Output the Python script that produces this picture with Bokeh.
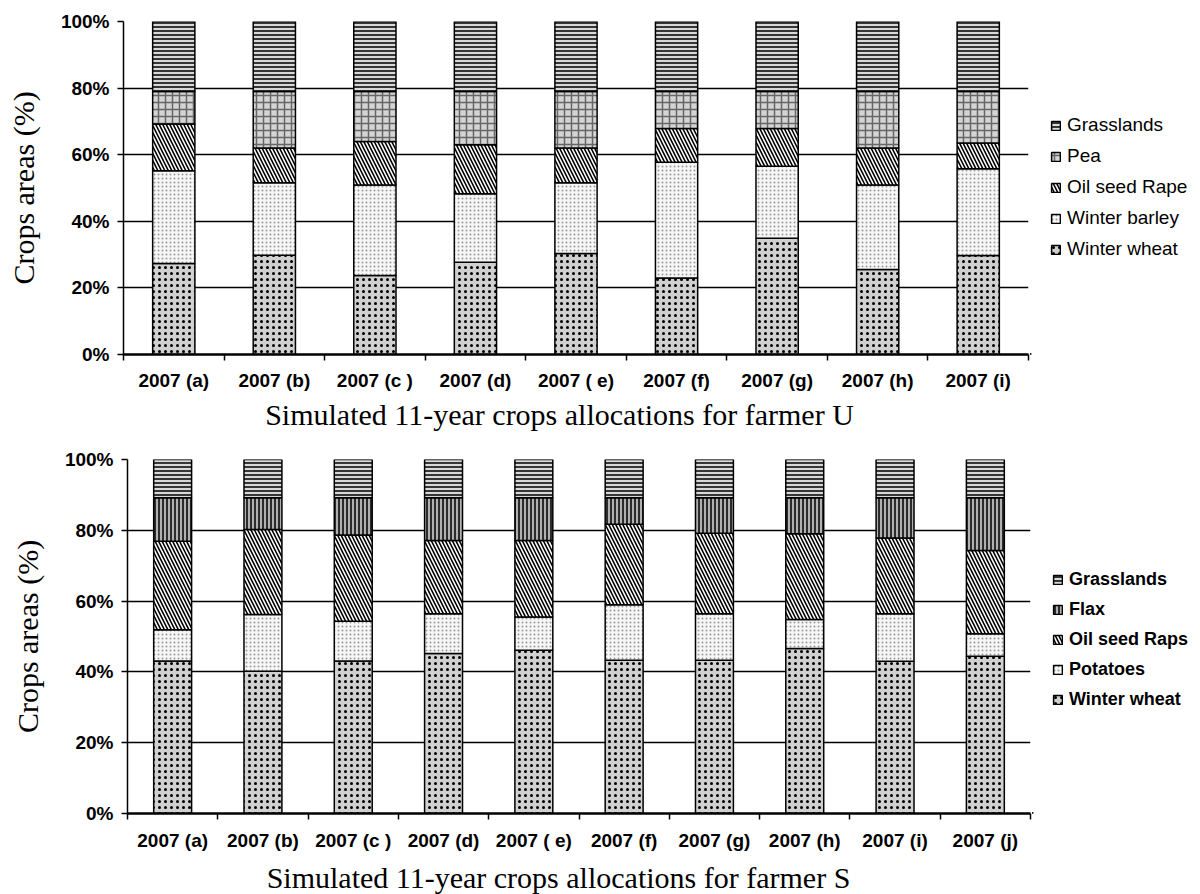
from bokeh.plotting import figure
from bokeh.models import (FactorRange, Range1d, LinearAxis, CategoricalAxis, FixedTicker,
                          Legend, LegendItem, Label, PrintfTickFormatter, ColumnDataSource)
from bokeh.layouts import column, row
from bokeh.transform import stack
from bokeh.embed import file_html
from bokeh.resources import INLINE

# ---------------- data: farmer U ----------------
years_u = ["2007 (a)", "2007 (b)", "2007 (c )", "2007 (d)", "2007 ( e)",
           "2007 (f)", "2007 (g)", "2007 (h)", "2007 (i)"]
u_winter_wheat = [27.3, 29.8, 23.7, 27.7, 30.3, 23.0, 34.9, 25.5, 29.7]
u_winter_barley = [27.9, 21.8, 27.2, 20.6, 21.3, 34.7, 21.6, 25.4, 26.1]
u_oil_seed_rape = [14.0, 10.4, 13.1, 14.7, 10.4, 10.2, 11.4, 11.1, 7.7]
u_pea = [9.8, 17.0, 15.0, 16.0, 17.0, 11.1, 11.1, 17.0, 15.5]
u_grasslands = [21.0, 21.0, 21.0, 21.0, 21.0, 21.0, 21.0, 21.0, 21.0]
u_names = ["Winter wheat", "Winter barley", "Oil seed Rape", "Pea", "Grasslands"]

# ---------------- data: farmer S ----------------
years_s = ["2007 (a)", "2007 (b)", "2007 (c )", "2007 (d)", "2007 ( e)",
           "2007 (f)", "2007 (g)", "2007 (h)", "2007 (i)", "2007 (j)"]
s_winter_wheat = [43.1, 40.2, 43.1, 45.2, 46.1, 43.3, 43.3, 46.6, 43.0, 44.4]
s_potatoes = [8.8, 16.0, 11.2, 11.2, 9.4, 15.7, 13.1, 8.2, 13.4, 6.4]
s_oil_seed_raps = [25.0, 24.0, 24.4, 20.7, 21.6, 22.7, 22.8, 24.2, 21.4, 23.5]
s_flax = [12.3, 9.0, 10.5, 12.1, 12.1, 7.5, 10.0, 10.2, 11.4, 14.9]
s_grasslands = [10.8, 10.8, 10.8, 10.8, 10.8, 10.8, 10.8, 10.8, 10.8, 10.8]
s_names = ["Winter wheat", "Potatoes", "Oil seed Raps", "Flax", "Grasslands"]

y_ticks = [0, 20, 40, 60, 80, 100]

SANS = "Liberation Sans"
SERIF = "Liberation Serif"

STYLE = {
    "wheat":  dict(fill_color="#d0d0d0", hatch_pattern="dot", hatch_color="black", hatch_scale=6, hatch_weight=3),
    "light":  dict(fill_color="#f6f6f6", hatch_pattern="dot", hatch_color="#9a9a9a", hatch_scale=4, hatch_weight=1),
    "diag":   dict(fill_color="white", hatch_pattern="left_diagonal_line", hatch_color="black", hatch_scale=7, hatch_weight=1.6),
    "brick":  dict(fill_color="#d4d4d4", hatch_pattern="cross", hatch_color="#666666", hatch_scale=7, hatch_weight=1.5),
    "vert":   dict(fill_color="#b0b0b0", hatch_pattern="vertical_line", hatch_color="black", hatch_scale=4, hatch_weight=1.5),
    "horiz":  dict(fill_color="#d8d8d8", hatch_pattern="horizontal_line", hatch_color="black", hatch_scale=4, hatch_weight=1.5),
}


def bare_figure(width, height):
    f = figure(width=width, height=height, x_range=Range1d(0, width), y_range=Range1d(0, height),
               x_axis_type=None, y_axis_type=None, output_backend="svg", toolbar_location=None,
               min_border=0, min_border_left=0, min_border_right=0,
               min_border_top=0, min_border_bottom=0)
    f.outline_line_color = None
    return f


def make_chart(cats, names, series, styles, width, height, b_left, b_top, b_bottom, label_standoff):
    data = {"cat": cats}
    for n, s in zip(names, series):
        data[n] = s
    src = ColumnDataSource(data)

    p = figure(x_range=FactorRange(*cats), y_range=Range1d(0, 100),
               width=width, height=height, x_axis_type=None,
               output_backend="svg", toolbar_location=None,
               min_border_left=b_left, min_border_right=2,
               min_border_top=b_top, min_border_bottom=b_bottom)
    p.outline_line_color = None
    p.background_fill_color = "white"

    for i, n in enumerate(names):
        p.vbar(x="cat", width=0.42, bottom=stack(*names[:i]), top=stack(*names[:i + 1]),
               source=src, line_color="black", line_width=1.5, **STYLE[styles[i]])

    # y axis
    yax = p.yaxis[0]
    yax.ticker = FixedTicker(ticks=y_ticks, minor_ticks=[])
    yax.formatter = PrintfTickFormatter(format="%d%%")
    yax.major_tick_in = 0
    yax.major_tick_out = 6
    yax.major_tick_line_color = "black"
    yax.major_tick_line_width = 1.5
    yax.axis_line_color = "black"
    yax.axis_line_width = 1.5
    yax.major_label_text_font = SANS
    yax.major_label_text_font_style = "bold"
    yax.major_label_text_font_size = "19px"
    yax.major_label_text_color = "black"
    yax.major_label_standoff = 8
    yax.axis_label = "Crops areas (%)"
    yax.axis_label_text_font = SERIF
    yax.axis_label_text_font_style = "normal"
    yax.axis_label_text_font_size = "30px"
    yax.axis_label_text_color = "black"
    yax.axis_label_standoff = 18

    p.ygrid.ticker = FixedTicker(ticks=y_ticks, minor_ticks=[])
    p.ygrid.grid_line_color = "black"
    p.ygrid.grid_line_width = 1.5

    # x axis line with tick marks at the category boundaries
    tick_axis = LinearAxis(ticker=FixedTicker(ticks=[], minor_ticks=list(range(len(cats) + 1))),
                           minor_tick_in=0, minor_tick_out=6, minor_tick_line_width=1.5,
                           minor_tick_line_color="black", major_tick_out=0, major_tick_in=0,
                           major_label_standoff=0,
                           axis_line_color="black", axis_line_width=2.5)
    p.add_layout(tick_axis, "below")
    cat_axis = CategoricalAxis(major_tick_line_color=None, major_tick_out=0, major_tick_in=0,
                               axis_line_color=None, major_label_text_font=SANS,
                               major_label_text_font_style="bold",
                               major_label_text_font_size="19px",
                               major_label_text_color="black",
                               major_label_standoff=label_standoff)
    p.add_layout(cat_axis, "below")
    return p


def make_legend(names, styles, width, height, loc, bold, pitch):
    f = bare_figure(width, height)
    rs = []
    for n, st in zip(names, styles):
        # swatch-only renderer: its single bar lies outside the visible range
        rs.append(f.vbar(x=[-50], bottom=[0], top=[1], width=1, line_color="black",
                         line_width=1.5, **STYLE[st]))
    items = [LegendItem(label=n, renderers=[r]) for n, r in zip(names, rs)][::-1]
    legend = Legend(items=items, location=loc, orientation="vertical",
                    border_line_color=None, background_fill_alpha=0,
                    padding=0, margin=0, spacing=pitch - 24,
                    glyph_width=11, glyph_height=11, label_height=24,
                    label_standoff=6, label_text_font=SANS,
                    label_text_font_size="18px" if bold else "19px",
                    label_text_font_style="bold" if bold else "normal",
                    label_text_color="black", label_text_baseline="middle")
    f.add_layout(legend)
    return f


def make_title(text, width, height, cx, baseline_y):
    f = bare_figure(width, height)
    f.add_layout(Label(x=cx, y=baseline_y, text=text, text_font=SERIF, text_font_size="30px",
                       text_color="black", text_align="center", text_baseline="alphabetic"))
    return f


u_styles = ["wheat", "light", "diag", "brick", "horiz"]
s_styles = ["wheat", "light", "diag", "vert", "horiz"]

chart_u = make_chart(years_u, u_names,
                     [u_winter_wheat, u_winter_barley, u_oil_seed_rape, u_pea, u_grasslands],
                     u_styles, width=1030, height=395, b_left=123, b_top=21, b_bottom=41,
                     label_standoff=9)
legend_u = make_legend(u_names, u_styles, width=170, height=395, loc=(20, 93), bold=False, pitch=31)
title_u = make_title("Simulated 11-year crops allocations for farmer U", 1200, 37, 559, 18)

chart_s = make_chart(years_s, s_names,
                     [s_winter_wheat, s_potatoes, s_oil_seed_raps, s_flax, s_grasslands],
                     s_styles, width=1032, height=422, b_left=127, b_top=27, b_bottom=41,
                     label_standoff=10)
legend_s = make_legend(s_names, s_styles, width=168, height=422, loc=(20, 102), bold=True, pitch=30)
title_s = make_title("Simulated 11-year crops allocations for farmer S", 1200, 40, 558, 17)

layout = column(row(chart_u, legend_u, spacing=0), title_u,
                row(chart_s, legend_s, spacing=0), title_s, spacing=0)
open("out.html", "w").write(file_html(layout, INLINE))
